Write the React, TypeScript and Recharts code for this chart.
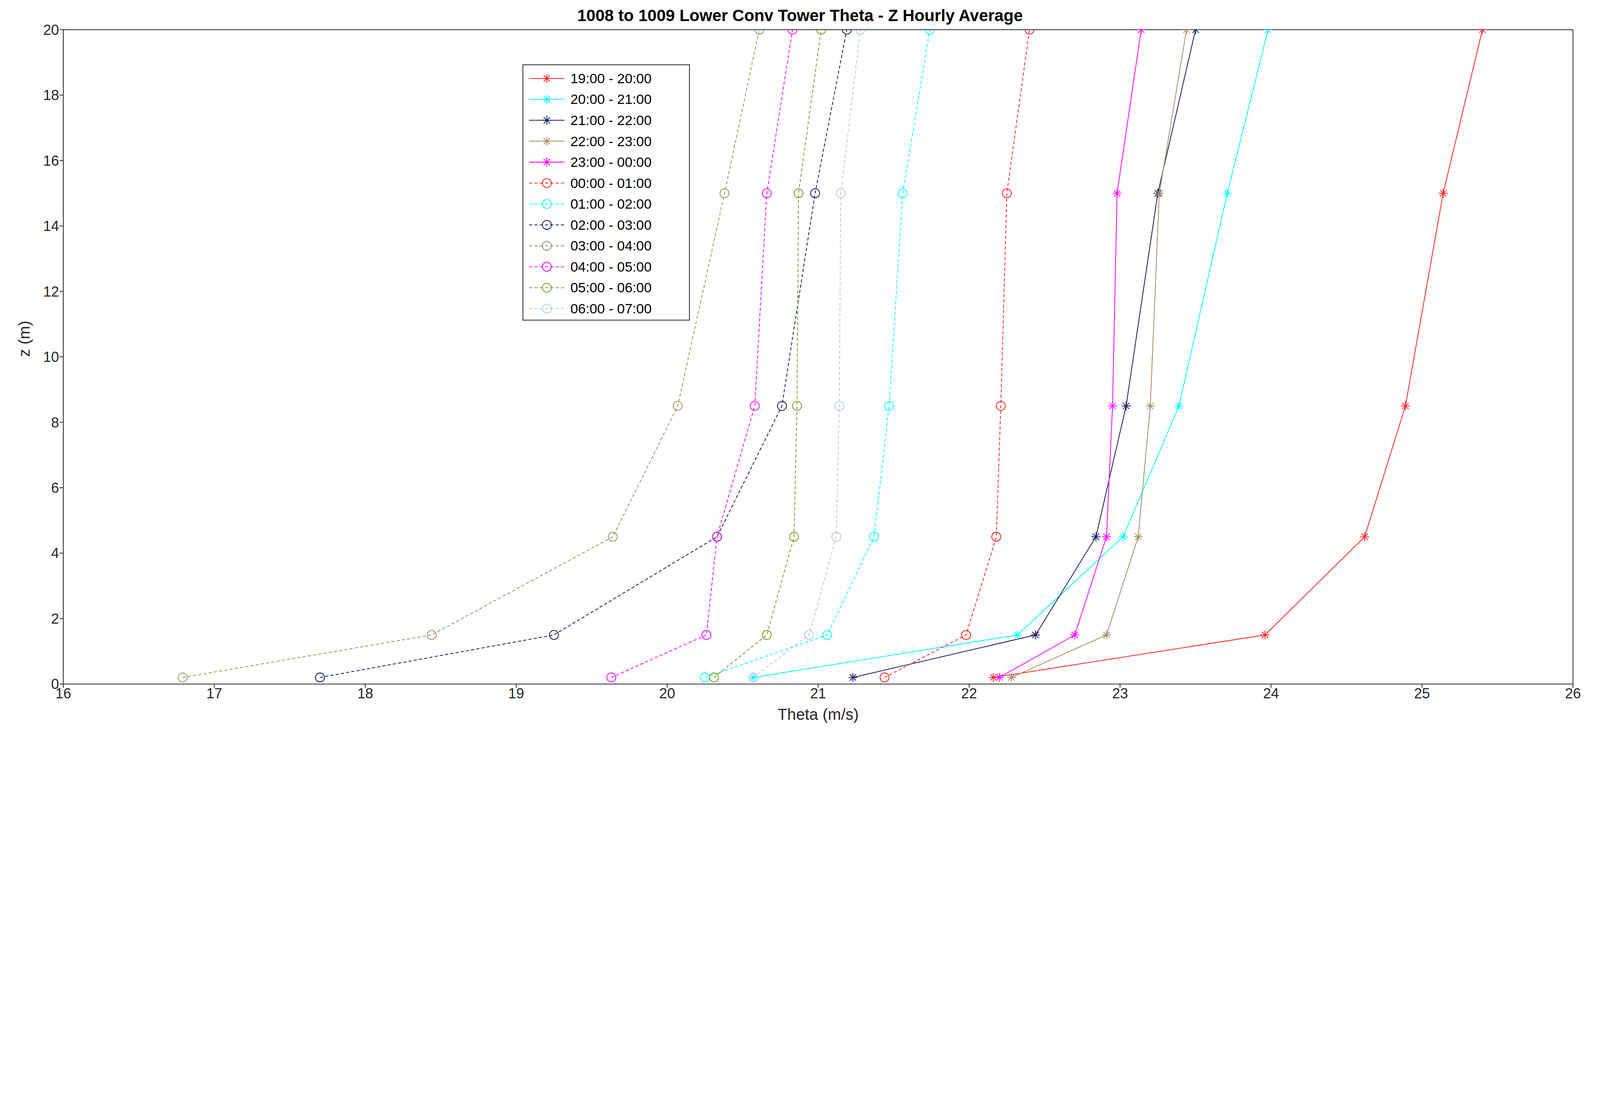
import React from 'react';
import { LineChart, Line, XAxis, YAxis } from 'recharts';

const heights = [0.2, 1.5, 4.5, 8.5, 15, 20];
const xTicks = [16, 17, 18, 19, 20, 21, 22, 23, 24, 25, 26];
const yTicks = [0, 2, 4, 6, 8, 10, 12, 14, 16, 18, 20];

const h1920 = [22.16, 23.96, 24.62, 24.89, 25.14, 25.4];
const h2021 = [20.57, 22.32, 23.02, 23.39, 23.71, 23.98];
const h2122 = [21.23, 22.44, 22.84, 23.04, 23.25, 23.5];
const h2223 = [22.28, 22.91, 23.12, 23.2, 23.26, 23.44];
const h2300 = [22.2, 22.7, 22.91, 22.95, 22.98, 23.14];
const h0001 = [21.44, 21.98, 22.18, 22.21, 22.25, 22.4];
const h0102 = [20.25, 21.06, 21.37, 21.47, 21.56, 21.74];
const h0203 = [17.7, 19.25, 20.33, 20.76, 20.98, 21.19];
const h0304 = [16.79, 18.44, 19.64, 20.07, 20.38, 20.61];
const h0405 = [19.63, 20.26, 20.33, 20.58, 20.66, 20.83];
const h0506 = [20.31, 20.66, 20.84, 20.86, 20.87, 21.02];
const h0607 = [20.57, 20.94, 21.12, 21.14, 21.15, 21.28];

const series = [
  { name: '19:00 - 20:00', vals: h1920, color: '#ff2020', dashed: false },
  { name: '20:00 - 21:00', vals: h2021, color: '#00ffff', dashed: false },
  { name: '21:00 - 22:00', vals: h2122, color: '#141a5e', dashed: false },
  { name: '22:00 - 23:00', vals: h2223, color: '#a38d64', dashed: false },
  { name: '23:00 - 00:00', vals: h2300, color: '#ff00ff', dashed: false },
  { name: '00:00 - 01:00', vals: h0001, color: '#ff2020', dashed: true },
  { name: '01:00 - 02:00', vals: h0102, color: '#00ffff', dashed: true },
  { name: '02:00 - 03:00', vals: h0203, color: '#141a5e', dashed: true },
  { name: '03:00 - 04:00', vals: h0304, color: '#a38d64', dashed: true },
  { name: '04:00 - 05:00', vals: h0405, color: '#ff00ff', dashed: true },
  { name: '05:00 - 06:00', vals: h0506, color: '#6fa024', dashed: true },
  { name: '06:00 - 07:00', vals: h0607, color: '#b8c6dd', dashed: true },
];

const FONT = 'Arial, "Liberation Sans", sans-serif';

if (typeof document !== 'undefined') document.body.style.margin = '0';

const Star = ({ cx, cy, color }: { cx: number; cy: number; color: string }) => {
  const r = 17;
  const d = r * 0.707;
  return (
    <g stroke={color} strokeWidth={3}>
      <line x1={cx - r} y1={cy} x2={cx + r} y2={cy} />
      <line x1={cx} y1={cy - r} x2={cx} y2={cy + r} />
      <line x1={cx - d} y1={cy - d} x2={cx + d} y2={cy + d} />
      <line x1={cx - d} y1={cy + d} x2={cx + d} y2={cy - d} />
    </g>
  );
};

const Marker = (props: any, color: string, dashed: boolean) => {
  const { cx, cy, index } = props;
  if (cx == null || cy == null) return <g key={index} />;
  return dashed ? (
    <circle key={index} cx={cx} cy={cy} r={17} fill="none" stroke={color} strokeWidth={3} />
  ) : (
    <g key={index}><Star cx={cx} cy={cy} color={color} /></g>
  );
};

const W = 6042;
const H = 2797;

const App = () => {
  const s = typeof window !== 'undefined' ? window.innerWidth / W : 1;
  return (
    <div style={{ width: W * s, height: H * s, overflow: 'hidden' }}>
      <div style={{ position: 'relative', width: W, height: H, background: '#fff', fontFamily: FONT, transform: `scale(${s})`, transformOrigin: 'top left' }}>
        <div style={{ position: 'absolute', left: 0, width: W, top: 22, textAlign: 'center', fontWeight: 'bold', fontSize: 62, color: '#000' }}>
          1008 to 1009 Lower Conv Tower Theta - Z Hourly Average
        </div>
        <LineChart width={W} height={H} margin={{ top: 104, right: 101, bottom: 80, left: 111 }}>
          <XAxis xAxisId="b" type="number" dataKey="x" domain={[16, 26]} ticks={xTicks} allowDataOverflow
            height={135} stroke="#262626" strokeWidth={3} tickSize={14}
            tick={{ fontSize: 54, fill: '#262626', fontFamily: FONT }}
            label={{ value: 'Theta (m/s)', position: 'insideBottom', offset: 0, fontSize: 60, fill: '#262626', fontFamily: FONT }} />
          <XAxis xAxisId="t" orientation="top" type="number" dataKey="x" domain={[16, 26]} ticks={xTicks}
            height={8} stroke="#262626" strokeWidth={3} tick={false} tickSize={0} />
          <YAxis yAxisId="l" type="number" dataKey="z" domain={[0, 20]} ticks={yTicks} allowDataOverflow
            width={128} stroke="#262626" strokeWidth={3} tickSize={14}
            tick={{ fontSize: 54, fill: '#262626', fontFamily: FONT }}
            label={{ value: 'z (m)', angle: -90, position: 'insideLeft', offset: -20, fontSize: 60, fill: '#262626', fontFamily: FONT }} />
          <YAxis yAxisId="r" orientation="right" type="number" dataKey="z" domain={[0, 20]} ticks={yTicks}
            width={1} stroke="#262626" strokeWidth={3} tick={false} tickSize={0} />
          {series.map((sr) => (
            <Line key={sr.name} xAxisId="b" yAxisId="l" data={sr.vals.map((v, i) => ({ x: v, z: heights[i] }))}
              dataKey="z" stroke={sr.color} strokeWidth={3} strokeDasharray={sr.dashed ? '12 8' : undefined}
              dot={(p: any) => Marker(p, sr.color, sr.dashed)} activeDot={false} isAnimationActive={false} />
          ))}
        </LineChart>
        <div style={{ position: 'absolute', left: 1973, top: 243, width: 632, height: 967, border: '3px solid #262626', background: '#fff', boxSizing: 'border-box', paddingTop: 10 }}>
          {series.map((sr) => (
            <div key={sr.name} style={{ display: 'flex', alignItems: 'center', height: 79 }}>
              <svg width={150} height={60} style={{ marginLeft: 14 }}>
                <line x1={8} y1={30} x2={142} y2={30} stroke={sr.color} strokeWidth={3} strokeDasharray={sr.dashed ? '12 8' : undefined} />
                {sr.dashed ? <circle cx={75} cy={30} r={17} fill="none" stroke={sr.color} strokeWidth={3} /> : <Star cx={75} cy={30} color={sr.color} />}
              </svg>
              <span style={{ fontSize: 52, color: '#000', marginLeft: 14 }}>{sr.name}</span>
            </div>
          ))}
        </div>
      </div>
    </div>
  );
};

export default App;
